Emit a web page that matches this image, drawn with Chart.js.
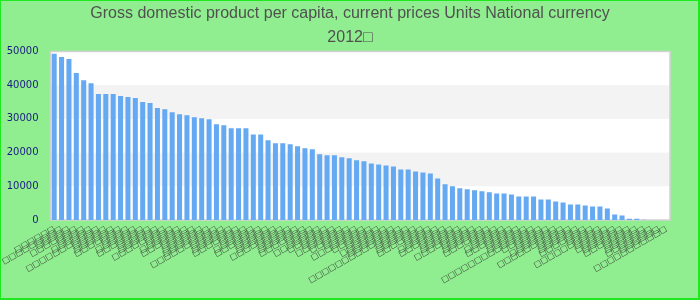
<!DOCTYPE html>
<html><head><meta charset="utf-8">
<script src="https://cdn.jsdelivr.net/npm/chart.js@4"></script>
<style>html,body{margin:0;padding:0;background:#90EE90;overflow:hidden}#wrap{width:700px;height:300px;position:relative}</style>
</head><body><div id="wrap"><canvas id="c"></canvas></div>
<script>
const titleLines = ["Gross domestic product per capita, current prices Units National currency", "2012□"];
const categories = [
"□□□□□□","□□□□□□□□□","□□□□□","□□□□□□□","□□□□","□□□□□□","□□□□□□□□□□□","□□□□□","□□□□□□","□□□□□□□",
"□□□□","□□□□□□","□□□□□□□","□□□□□","□□□□□□","□□□□□□□□","□□□□","□□□□□□","□□□□□□□","□□□□□",
"□□□□□□","□□□□□□□","□□□□□□□□□□","□□□□□","□□□□□□","□□□□□□□","□□□□","□□□□□□","□□□□□□□","□□□□□",
"□□□□□□","□□□□□□□□","□□□□□","□□□□□□","□□□□□□□","□□□□","□□□□□□□","□□□□□□","□□□□□","□□□□□□□",
"□□□□□□","□□□□□","□□□□□□□□","□□□□□□","□□□□□","□□□□□□□","□□□□□□□","□□□□□□□□□□□□□□","□□□□□","□□□□□□",
"□□□□□□□","□□□□","□□□□□□","□□□□□□□","□□□□□","□□□□□□","□□□□□□□□","□□□□□","□□□□□□","□□□□□□□",
"□□□□","□□□□□□","□□□□□□□","□□□□□","□□□□□□","□□□□□□□□□□□□□□","□□□□□□","□□□□□","□□□□□□□","□□□□□□□□□□",
"□□□□□","□□□□□□","□□□□□□□","□□□□","□□□□□□□□□□","□□□□□","□□□□□□","□□□□□□","□□□□□□□","□□□□□",
"□□□□□□","□□□□□□□","□□□□□□","□□□□□□□□□□□"
];
const gdpValues = [
49300,48400,47800,43600,41500,40600,37400,37400,37400,36800,
36500,36200,35000,34700,33200,32900,32000,31400,31100,30500,
30200,29900,28400,28100,27200,27200,27200,25400,25400,23700,
22800,22800,22500,21900,21300,21000,19500,19200,19200,18600,
18300,17700,17400,16800,16500,16200,15900,15000,15000,14400,
14100,13800,12300,10600,10000,9400,9100,8800,8500,8200,
7900,7900,7600,7000,7000,7000,6100,6100,5500,5200,
4600,4600,4300,4000,4000,3400,1600,1300,400,400,
100,0,0,0
];
const yTickValues = [0,10000,20000,30000,40000,50000];
const bandRanges = [[10000,20000],[30000,40000]];

const decor = {
  id:'decor',
  beforeDraw(chart){
    const {ctx, chartArea:a, scales:{y}} = chart;
    ctx.save();
    ctx.fillStyle = '#90EE90';
    ctx.fillRect(0,0,chart.width,chart.height);
    ctx.fillStyle = '#ffffff';
    ctx.fillRect(a.left,a.top,a.right-a.left,a.bottom-a.top);
    ctx.fillStyle = '#f3f3f3';
    bandRanges.forEach(([lo,hi])=>{
      const y1 = y.getPixelForValue(hi), y2 = y.getPixelForValue(lo);
      ctx.fillRect(a.left,y1,a.right-a.left,y2-y1);
    });
    ctx.strokeStyle = '#d2d2d2';
    ctx.lineWidth = 1.5;
    ctx.strokeRect(a.left,a.top,a.right-a.left,a.bottom-a.top);
    ctx.restore();
  },
  afterDraw(chart){
    const ctx = chart.ctx;
    ctx.save();
    ctx.fillStyle = '#1ee81e';
    ctx.fillRect(0,0,1,chart.height);
    ctx.fillRect(0,0,chart.width,1);
    ctx.fillRect(chart.width-2,0,2,chart.height);
    ctx.fillRect(0,chart.height-2,chart.width,2);
    ctx.restore();
  }
};

new Chart(document.getElementById('c'), {
  type:'bar',
  data:{
    labels: categories,
    datasets:[{
      data: gdpValues,
      backgroundColor:'#64a9f2',
      borderWidth:0,
      categoryPercentage:1,
      barPercentage:0.68
    }]
  },
  options:{
    responsive:true,
    maintainAspectRatio:false,
    devicePixelRatio:1,
    animation:false,
    layout:{padding:0},
    plugins:{
      legend:{display:false},
      tooltip:{enabled:false},
      title:{
        display:true,
        text:titleLines,
        color:'#505050',
        font:{family:"'Liberation Sans',Arial,sans-serif",size:16,weight:'normal',lineHeight:'24px'},
        padding:{top:2,bottom:1.5}
      }
    },
    scales:{
      x:{
        grid:{display:false,drawTicks:false,tickLength:0},
        border:{display:false},
        ticks:{
          autoSkip:false,maxRotation:30,minRotation:30,
          color:'#333333',
          font:{family:"'DejaVu Sans',sans-serif",size:8},
          padding:4
        },
        afterFit(s){ s.height = 80; }
      },
      y:{
        min:0,max:50000,
        grid:{display:false,drawTicks:false,tickLength:0},
        border:{display:false},
        afterBuildTicks(s){ s.ticks = yTickValues.map(v=>({value:v})); },
        ticks:{
          color:'#1a1a80',
          font:{family:"'DejaVu Sans',sans-serif",size:10},
          padding:12,
          callback:(v)=>String(v)
        },
        afterFit(s){ s.width = 50.5; }
      },
      spacer:{
        type:'linear',
        position:'right',
        min:0,max:1,
        grid:{display:false,drawTicks:false,tickLength:0},
        border:{display:false},
        ticks:{display:false},
        afterFit(s){ s.width = 30; }
      }
    }
  },
  plugins:[decor]
});
</script>
</body></html>
